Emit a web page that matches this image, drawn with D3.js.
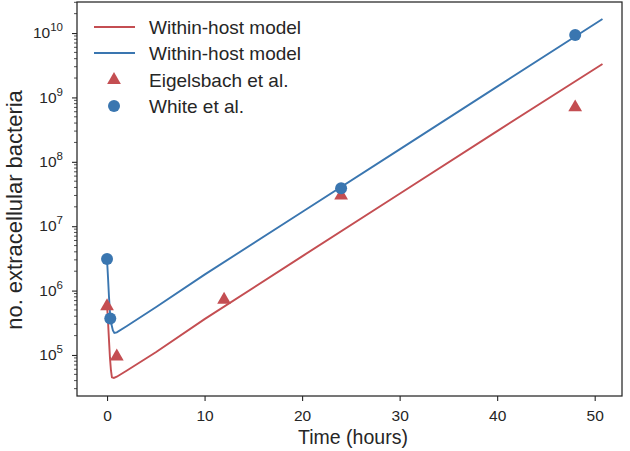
<!DOCTYPE html>
<html><head><meta charset="utf-8">
<script src="https://cdn.jsdelivr.net/npm/d3@7"></script>
<style>body{margin:0;background:#fff;} text{font-family:"Liberation Sans",Arial,sans-serif;}</style>
</head><body>
<svg id="c" width="630" height="451"></svg>
<script>
// Model curves
const modelBlueT = [0, 0.1, 0.2, 0.3, 0.45, 0.6, 0.75, 1.0, 2, 5, 10, 20, 30, 40, 50.8];
const modelBlueV = [3.0e6, 1.6e6, 8.0e5, 4.6e5, 3.0e5, 2.4e5, 2.2e5, 2.25e5, 2.8e5, 5.5e5, 1.77e6, 1.66e7, 1.56e8, 1.47e9, 1.65e10];
const modelRedT = [0, 0.1, 0.2, 0.3, 0.4, 0.5, 0.7, 1.0, 2, 5, 10, 20, 30, 40, 50.8];
const modelRedV = [6.0e5, 3.3e5, 1.7e5, 9.0e4, 5.8e4, 4.5e4, 4.4e4, 4.6e4, 5.7e4, 1.1e5, 3.6e5, 3.4e6, 3.2e7, 3.0e8, 3.3e9];
// Data points
const eigelsbachT = [0, 1, 12, 24, 48];
const eigelsbachV = [5.7e5, 9.5e4, 7.2e5, 3.0e7, 7.0e8];
const whiteT = [0, 0.33, 24, 48];
const whiteV = [3.1e6, 3.7e5, 3.9e7, 9.3e9];
const xTicks = [0, 10, 20, 30, 40, 50];
const yTicks = [1e5, 1e6, 1e7, 1e8, 1e9, 1e10];
const legendLabels = ["Within-host model", "Within-host model", "Eigelsbach et al.", "White et al."];
const RED = "#c44e52", BLUE = "#3a76b0";

const svg = d3.select("#c");
const L = 77, R = 622, T = 2, B = 396;
const x = d3.scaleLinear().domain([-3.08, 52.8]).range([L, R]);
const y = d3.scaleLog().domain([Math.pow(10, 4.363), Math.pow(10, 10.482)]).range([B, T]);

const axisColor = "#262626";
svg.append("rect").attr("x", L).attr("y", T).attr("width", R - L).attr("height", B - T)
  .attr("fill", "none").attr("stroke", axisColor).attr("stroke-width", 1.25);

// x axis
const gx = svg.append("g").attr("transform", `translate(0,${B})`)
  .call(d3.axisBottom(x).tickValues(xTicks).tickSize(5).tickPadding(9).tickFormat(d3.format("d")));
gx.select(".domain").remove();
gx.selectAll("line").attr("stroke", axisColor).attr("stroke-width", 1.1);
gx.selectAll("text").attr("font-size", 15.5).attr("fill", axisColor);

// y axis major
const gy = svg.append("g").attr("transform", `translate(${L},0)`)
  .call(d3.axisLeft(y).tickValues(yTicks).tickSize(5).tickPadding(9).tickFormat(() => ""));
gy.select(".domain").remove();
gy.selectAll("line").attr("stroke", axisColor).attr("stroke-width", 1.1);
gy.selectAll(".tick").each(function(d) {
  const t = d3.select(this).select("text").text(null).attr("font-size", 15.5).attr("fill", axisColor).attr("dy", "0.3em");
  t.append("tspan").text("10");
  t.append("tspan").attr("font-size", 11.5).attr("dy", "-0.6em").text(String(Math.round(Math.log10(d))));
});
// y minor ticks
const minor = [];
for (let e = 4; e <= 10; e++) for (let m = 2; m <= 9; m++) {
  const v = m * Math.pow(10, e);
  if (v >= y.domain()[0] && v <= y.domain()[1]) minor.push(v);
}
svg.append("g").selectAll("line").data(minor).join("line")
  .attr("x1", L - 3).attr("x2", L).attr("y1", d => y(d)).attr("y2", d => y(d))
  .attr("stroke", axisColor).attr("stroke-width", 0.8);

// labels
svg.append("text").attr("x", 353).attr("y", 444).attr("text-anchor", "middle")
  .attr("font-size", 19.5).attr("fill", axisColor).text("Time (hours)");
svg.append("text").attr("transform", `translate(22,210) rotate(-90)`).attr("text-anchor", "middle")
  .attr("font-size", 22).attr("fill", axisColor).text("no. extracellular bacteria");

svg.append("defs").append("clipPath").attr("id", "clp").append("rect")
  .attr("x", L).attr("y", T).attr("width", R - L).attr("height", B - T);
const plot = svg.append("g").attr("clip-path", "url(#clp)");

const line = d3.line().x(d => x(d[0])).y(d => y(d[1]));
plot.append("path").datum(modelRedT.map((t, i) => [t, modelRedV[i]]))
  .attr("d", line).attr("fill", "none").attr("stroke", RED).attr("stroke-width", 1.9);
plot.append("path").datum(modelBlueT.map((t, i) => [t, modelBlueV[i]]))
  .attr("d", line).attr("fill", "none").attr("stroke", BLUE).attr("stroke-width", 1.9);

const tri = d3.symbol().type(d3.symbolTriangle).size(82);
plot.selectAll(".tri").data(eigelsbachT.map((t, i) => [t, eigelsbachV[i]])).join("path")
  .attr("d", tri).attr("transform", d => `translate(${x(d[0])},${y(d[1])})`).attr("fill", RED);
plot.selectAll(".dot").data(whiteT.map((t, i) => [t, whiteV[i]])).join("circle")
  .attr("cx", d => x(d[0])).attr("cy", d => y(d[1])).attr("r", 6).attr("fill", BLUE);

// legend
const lg = svg.append("g");
const ly = [27, 53, 80, 106];
legendLabels.forEach((lab, i) => {
  const yy = ly[i];
  if (i < 2) {
    lg.append("line").attr("x1", 94).attr("x2", 135).attr("y1", yy).attr("y2", yy)
      .attr("stroke", i === 0 ? RED : BLUE).attr("stroke-width", 1.9);
  } else if (i === 2) {
    lg.append("path").attr("d", tri).attr("transform", `translate(114,${yy})`).attr("fill", RED);
  } else {
    lg.append("circle").attr("cx", 114).attr("cy", yy).attr("r", 6).attr("fill", BLUE);
  }
  lg.append("text").attr("x", 149).attr("y", yy).attr("dy", "0.35em").attr("font-size", 19)
    .attr("fill", axisColor).text(lab);
});
</script>
</body></html>
